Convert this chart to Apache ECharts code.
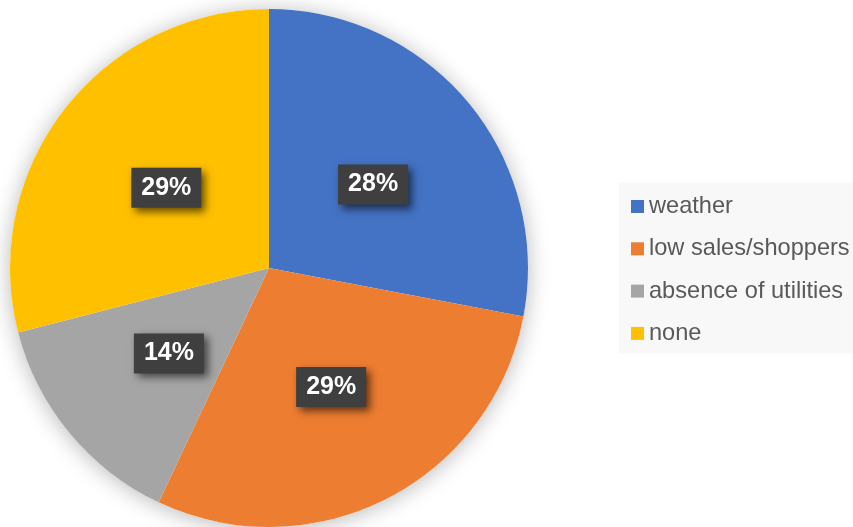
<!DOCTYPE html>
<html>
<head>
<meta charset="utf-8">
<script src="https://cdn.jsdelivr.net/npm/echarts@6/dist/echarts.min.js"></script>
<style>
  html, body { margin: 0; padding: 0; background: #fff; }
  #chart { width: 853px; height: 527px; }
</style>
</head>
<body>
<div id="chart"></div>
<script>
// Reasons given, share of responses (%)
const categories = ['weather', 'low sales/shoppers', 'absence of utilities', 'none'];
const shares = [28, 29, 14, 29];
const colors = ['#4472C4', '#ED7D31', '#A5A5A5', '#FFC000'];

// Dark dotted tile used behind each percentage label
function dottedTile(w, h) {
  const c = document.createElement('canvas');
  c.width = w; c.height = h;
  const ctx = c.getContext('2d');
  ctx.fillStyle = '#3d3d3d';
  ctx.fillRect(0, 0, w, h);
  ctx.fillStyle = '#575757';
  for (let y = 2, row = 0; y < h; y += 5, row++) {
    for (let x = (row % 2) * 2 + 2; x < w; x += 5) {
      ctx.fillRect(x, y, 2, 2);
    }
  }
  return c;
}
const tile = dottedTile(70, 40);

const center = [269, 268];
const radius = 259;

const chart = echarts.init(document.getElementById('chart'));
chart.setOption({
  animation: false,
  backgroundColor: '#ffffff',
  legend: {
    data: categories,
    orient: 'vertical',
    left: 619,
    top: 183,
    padding: [11.5, 12, 7.5, 12],
    backgroundColor: '#f8f8f8',
    icon: 'rect',
    itemWidth: 13,
    itemHeight: 13,
    itemGap: 18.3,
    selectedMode: false,
    textStyle: {
      fontFamily: 'Liberation Sans, Arial, sans-serif',
      fontSize: 23.6,
      lineHeight: 24,
      color: '#595959'
    }
  },
  series: [
    {
      // soft shadow under the whole pie
      type: 'pie',
      silent: true,
      center: center,
      radius: radius,
      z: 1,
      label: { show: false },
      labelLine: { show: false },
      data: [{ value: 1, name: '_shadow' }],
      itemStyle: {
        color: '#ffffff',
        shadowBlur: 22,
        shadowColor: 'rgba(0,0,0,0.28)',
        shadowOffsetX: 0,
        shadowOffsetY: 2
      }
    },
    {
      type: 'pie',
      center: center,
      radius: radius,
      startAngle: 90,
      clockwise: true,
      z: 2,
      data: categories.map((name, i) => ({
        name: name,
        value: shares[i],
        itemStyle: { color: colors[i] }
      })),
      itemStyle: { borderWidth: 0 },
      label: {
        show: true,
        position: 'inside',
        offset: [2, 1],
        formatter: p => p.value + '%',
        fontFamily: 'Liberation Sans, Arial, sans-serif',
        fontWeight: 'bold',
        fontSize: 25,
        color: '#ffffff',
        lineHeight: 26,
        overflow: 'none',
        padding: [7, 10, 7, 10],
        backgroundColor: '#3f3f3f',
        shadowColor: 'rgba(0,0,0,0.6)',
        shadowBlur: 8,
        shadowOffsetX: 4,
        shadowOffsetY: 4
      },
      labelLine: { show: false },
      emphasis: { disabled: true }
    }
  ]
});
</script>
</body>
</html>
